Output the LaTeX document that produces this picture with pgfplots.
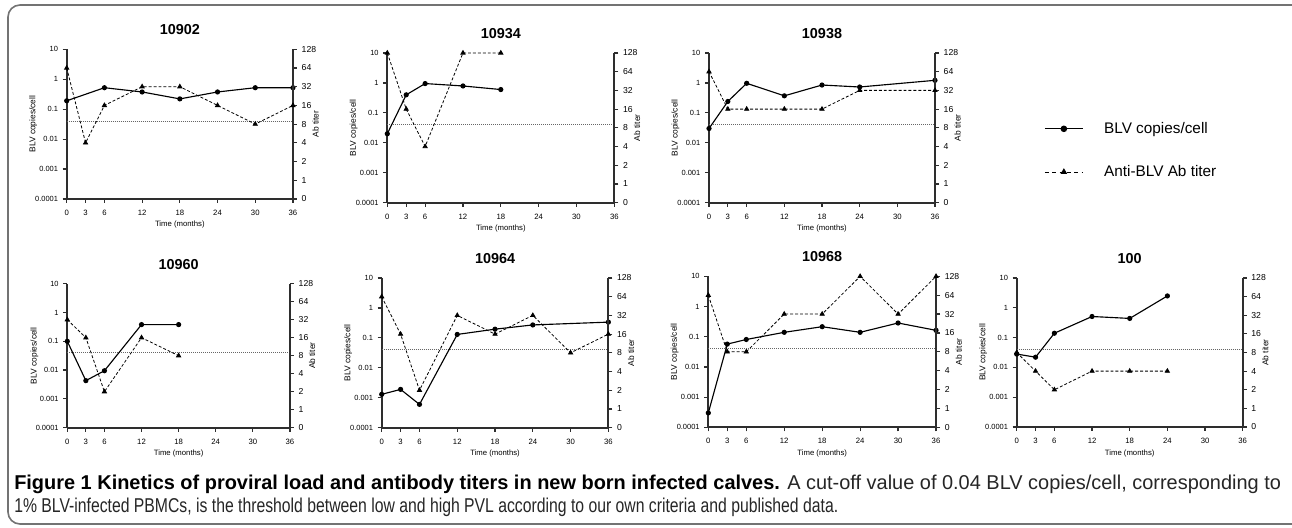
\documentclass[border=0pt]{standalone}
\usepackage{fontspec}
\usepackage{graphicx}
\usepackage{pgfplots}
\pgfplotsset{compat=1.18}
\setmainfont{Liberation Sans}

\tikzset{
  blvstyle/.style={black, line width=0.85pt, mark=*, mark size=1.5pt, mark options={solid}},
  titerstyle/.style={black, line width=0.6pt, dash pattern=on 2.2pt off 1.5pt, mark=triangle*, mark size=1.8pt, mark options={solid}},
  cutoffstyle/.style={black!60, line width=0.5pt, dash pattern=on 0.6pt off 0.9pt},
}

\newcommand{\panel}[7]{%
  \begin{axis}[scale only axis, anchor=south west, at={(#1,#2)}, width=#3, height=#4,
    xmin=0, xmax=36, clip=false,
    tick align=outside, major tick length=3pt,
    axis line style={line width=1.6pt, black!82},
    tick style={line width=0.9pt, black!82},
    ymode=log, ymin=1e-4, ymax=10,
    axis x line*=bottom, axis y line*=left,
    xtick={0,3,6,12,18,24,30,36},
    xticklabels={0,3,6,12,18,24,30,36},
    xticklabel style={font=\fontsize{5.8pt}{6pt}\selectfont, yshift=-1.8pt},
    ytick={1e-4,1e-3,1e-2,1e-1,1,10},
    yticklabels={0.0001,0.001,0.01,0.1,1,10},
    yticklabel style={font=\fontsize{5.6pt}{6pt}\selectfont},
    yminorticks=false,
    xlabel={Time (months)},
    xlabel style={font=\fontsize{5.8pt}{6pt}\selectfont, at={(axis description cs:0.5,0)}, anchor=center, yshift=-19.5pt},
    ylabel={BLV copies/cell},
    ylabel style={font=\fontsize{6.3pt}{7pt}\selectfont, at={(axis description cs:-0.148,0.5)}, anchor=center},
    title={#5},
    title style={font=\bfseries\fontsize{10.8pt}{12pt}\selectfont, at={(axis description cs:0.5,1)}, anchor=center, yshift=8.5pt}]
    \addplot[cutoffstyle, forget plot] coordinates {(0,0.04) (36,0.04)};
    \addplot[blvstyle] coordinates {#6};
  \end{axis}
  \begin{axis}[scale only axis, anchor=south west, at={(#1,#2)}, width=#3, height=#4,
    xmin=0, xmax=36, clip=false,
    tick align=outside, major tick length=3pt,
    axis line style={line width=1.6pt, black!82},
    tick style={line width=0.9pt, black!82},
    ymode=log, log basis y=2, ymin=0.5, ymax=128,
    axis y line*=right, axis x line=none,
    ytick={0.5,1,2,4,8,16,32,64,128},
    yticklabels={0,1,2,4,8,16,32,64,128},
    yticklabel style={font=\fontsize{6.5pt}{7pt}\selectfont},
    yminorticks=false,
    ylabel={Ab titer},
    ylabel style={font=\fontsize{6.3pt}{7pt}\selectfont, at={(axis description cs:1.1,0.5)}, anchor=center}]
    \addplot[titerstyle] coordinates {#7};
  \end{axis}}

\begin{document}
\begin{tikzpicture}[x=0.75pt, y=0.75pt]
\useasboundingbox (0,0) rectangle (1292,528);
\fill[white] (0,0) rectangle (1292,528);
\draw[line width=1.2pt, black!55, rounded corners=9pt] (1330,523) -- (8,523) -- (8,4) -- (1330,4);

\panel{50.03pt}{246.75pt}{169.7pt}{112.3pt}{10902}
  {(0,0.19) (6,0.52) (12,0.375) (18,0.22) (24,0.375) (30,0.52) (36,0.52)}
  {(0,64) (3,4) (6,16) (12,32) (18,32) (24,16) (30,8) (36,16)}
\panel{290.48pt}{243.98pt}{170.25pt}{112.3pt}{10934}
  {(0,0.02) (3,0.4) (6,0.95) (12,0.79) (18,0.6)}
  {(0,128) (3,16) (6,4) (12,128) (18,128)}
\panel{531.75pt}{243.98pt}{169.5pt}{112.3pt}{10938}
  {(0,0.03) (3,0.24) (6,0.97) (12,0.37) (18,0.85) (24,0.73) (36,1.22)}
  {(0,64) (3,16) (6,16) (12,16) (18,16) (24,32) (36,32)}
\panel{50.48pt}{75.23pt}{167pt}{108pt}{10960}
  {(0,0.1) (3,0.0043) (6,0.0095) (12,0.38) (18,0.38)}
  {(0,32) (3,16) (6,2) (12,16) (18,8)}
\panel{286.28pt}{75.23pt}{170pt}{112.3pt}{10964}
  {(0,0.0013) (3,0.0019) (6,0.0006) (12,0.13) (18,0.195) (24,0.27) (36,0.335)}
  {(0,64) (3,16) (6,2) (12,32) (18,16) (24,32) (30,8) (36,16)}
\panel{531.23pt}{75.53pt}{170.8pt}{113.2pt}{10968}
  {(0,0.0003) (3,0.057) (6,0.081) (12,0.14) (18,0.215) (24,0.14) (30,0.285) (36,0.163)}
  {(0,64) (3,8) (6,8) (12,32) (18,32) (24,128) (30,32) (36,128)}
\panel{762.53pt}{75.75pt}{169.5pt}{111.75pt}{100}
  {(0,0.028) (3,0.022) (6,0.14) (12,0.51) (18,0.44) (24,2.5)}
  {(0,8) (3,4) (6,2) (12,4) (18,4) (24,4)}

% legend
\begin{axis}[hide axis, scale only axis, width=10pt, height=10pt, at={(783pt,306.5pt)}, anchor=north west,
  xmin=0, xmax=1, ymin=0, ymax=1,
  legend style={at={(axis description cs:0,1)}, anchor=north west, draw=none, fill=none,
    inner sep=0pt, font=\fontsize{11.5pt}{13pt}\selectfont, row sep=18.5pt},
  legend cell align=left,
  legend image code/.code={\draw[mark repeat=2, mark phase=2, #1] plot coordinates {(0pt,0pt) (14.25pt,0pt) (28.5pt,0pt)}; \path (42pt,0pt);}]
  \addlegendimage{blvstyle, line width=0.9pt, mark size=2pt}
  \addlegendentry{BLV copies/cell}
  \addlegendimage{titerstyle, dash pattern=on 3pt off 2.5pt, mark size=2.2pt}
  \addlegendentry{Anti-BLV Ab titer}
\end{axis}

% caption
\node[anchor=base west, inner sep=0pt] at (14,38) {\resizebox{950pt}{\height}{\fontsize{15pt}{17pt}\selectfont\textbf{Figure 1 Kinetics of proviral load and antibody titers in new born infected calves.} \color{black!85}A cut-off value of 0.04 BLV copies/cell, corresponding to}};
\node[anchor=base west, inner sep=0pt] at (14,15) {\resizebox{618pt}{\height}{\fontsize{15pt}{17pt}\selectfont\color{black!85}1\% BLV-infected PBMCs, is the threshold between low and high PVL according to our own criteria and published data.}};
\end{tikzpicture}
\end{document}
